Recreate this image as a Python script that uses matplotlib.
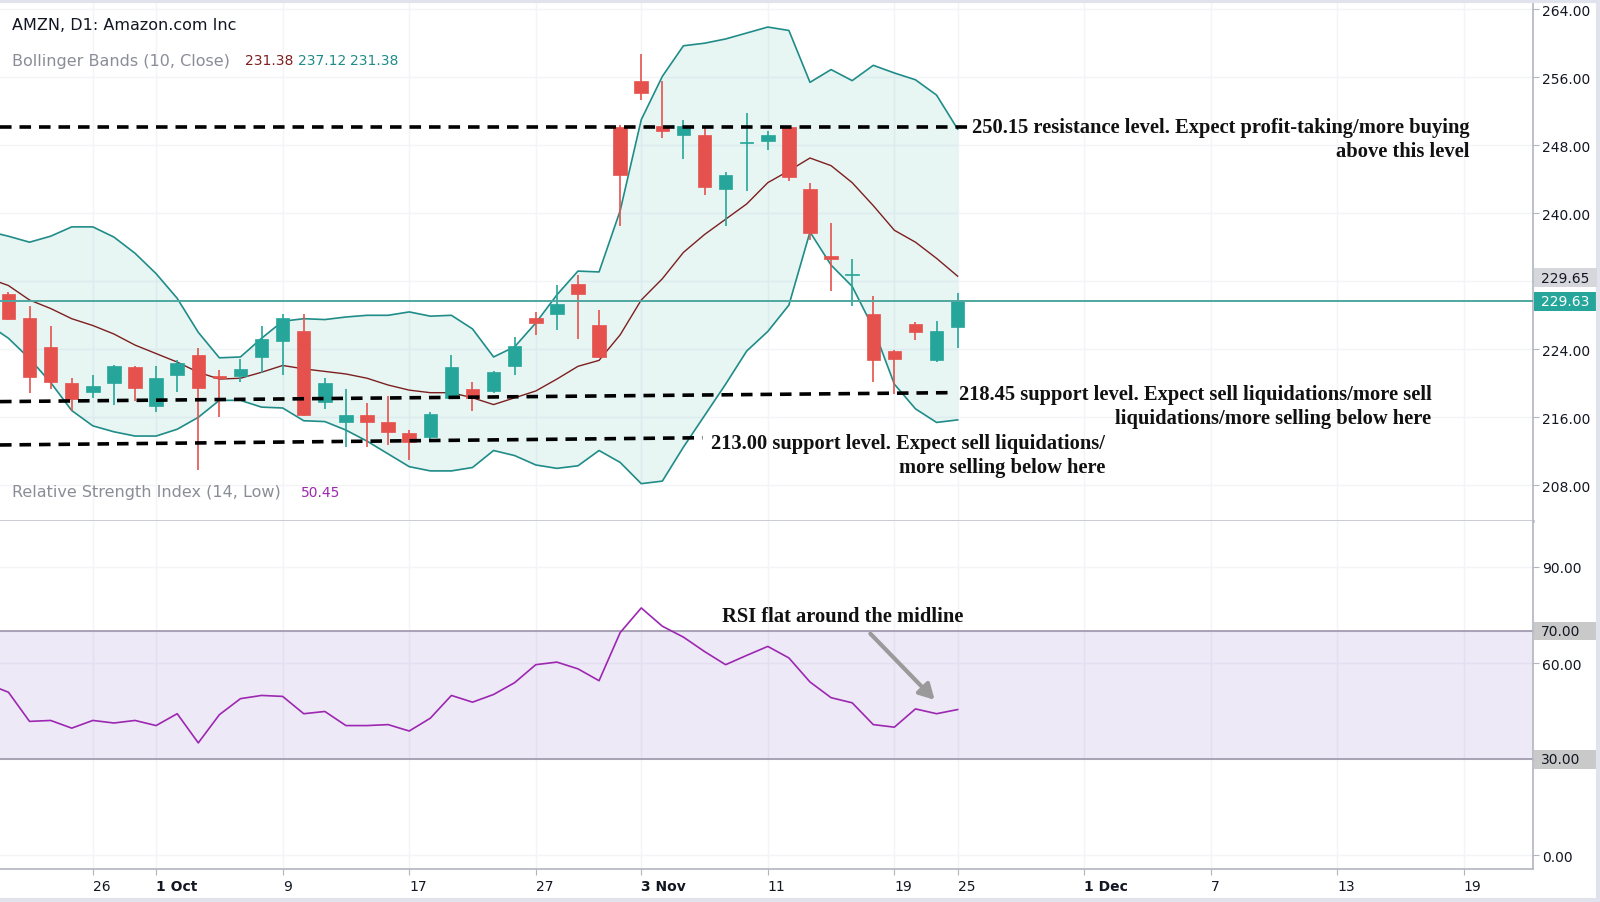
import numpy as np
import matplotlib
matplotlib.use("Agg")
import matplotlib.pyplot as plt
from matplotlib.transforms import blended_transform_factory
from matplotlib.patches import Rectangle
from matplotlib.lines import Line2D

# ---------------- data ----------------
opens = [230.5, 227.7, 224.3, 220.0, 219.0, 220.0, 221.9, 217.3, 221.0, 223.3,
         220.8, 220.9, 223.1, 225.0, 226.2, 217.8, 215.4, 216.3, 215.4, 214.1,
         213.7, 218.3, 219.3, 219.1, 222.0, 227.7, 228.2, 231.7, 226.9, 250.2,
         255.6, 250.3, 249.2, 249.2, 242.9, 248.3, 248.5, 250.1, 242.8, 235.0,
         232.7, 228.1, 223.8, 227.0, 222.7, 226.6]
highs = [230.7, 229.1, 226.8, 220.6, 221.0, 222.2, 222.0, 222.0, 222.7, 224.1,
         221.6, 222.9, 226.8, 228.2, 228.2, 220.6, 219.3, 217.7, 218.5, 214.5,
         216.6, 223.3, 220.1, 221.5, 225.4, 228.4, 231.6, 232.7, 228.6, 250.4,
         258.7, 255.5, 251.0, 250.2, 244.9, 251.8, 249.7, 250.2, 243.6, 238.8,
         234.6, 230.3, 223.9, 227.2, 227.3, 230.6]
lows = [227.4, 218.9, 219.3, 216.7, 218.3, 217.4, 217.9, 216.6, 219.0, 209.8,
        216.0, 220.2, 221.2, 221.0, 216.2, 217.0, 212.5, 212.5, 212.7, 211.0,
        213.3, 218.2, 216.8, 218.9, 221.0, 225.7, 226.3, 225.2, 223.0, 238.5,
        253.3, 248.8, 246.4, 242.2, 238.5, 242.6, 247.4, 243.8, 236.8, 230.8,
        229.1, 220.1, 218.7, 225.1, 222.5, 224.1]
closes = [227.6, 220.8, 220.2, 218.1, 219.7, 222.0, 219.5, 220.6, 222.4, 219.5,
          220.7, 221.7, 225.2, 227.7, 216.3, 220.0, 216.3, 215.5, 214.3, 213.1,
          216.4, 221.9, 218.3, 221.3, 224.4, 227.1, 229.3, 230.5, 223.1, 244.5,
          254.2, 249.7, 250.3, 243.1, 244.5, 248.4, 249.2, 244.3, 237.7, 234.6,
          232.9, 222.8, 222.9, 226.0, 226.2, 229.63]

# indicator series start one session before the first visible candle
bb_upper = [237.9, 237.3, 236.6, 237.3, 238.4, 238.4, 237.2, 235.3, 232.9, 230.0,
            226.0, 223.0, 223.1, 225.3, 227.3, 227.6, 227.5, 227.8, 228.0, 228.0,
            228.4, 227.9, 228.0, 226.4, 223.1, 224.3, 227.1, 230.4, 233.2, 233.1,
            240.3, 251.0, 256.1, 259.7, 260.0, 260.5, 261.2, 261.9, 261.5, 255.4,
            256.9, 255.6, 257.4, 256.5, 255.7, 253.9, 249.9]
bb_basis = [232.4, 231.5, 229.8, 228.8, 227.6, 226.8, 225.8, 224.5, 223.5, 222.5,
            221.3, 220.5, 220.6, 221.3, 222.1, 221.7, 221.4, 221.1, 220.6, 219.8,
            219.2, 218.9, 218.9, 218.3, 217.5, 218.3, 219.1, 220.5, 222.0, 222.7,
            225.7, 229.8, 232.3, 235.4, 237.5, 239.3, 241.1, 243.6, 245.0, 246.5,
            245.6, 243.6, 240.9, 238.0, 236.6, 234.7, 232.6]
bb_lower = [227.0, 225.3, 222.9, 220.1, 216.8, 215.0, 214.3, 213.8, 213.8, 214.6,
            216.0, 218.0, 218.0, 217.2, 217.1, 215.6, 215.5, 214.5, 213.2, 211.7,
            210.2, 209.7, 209.7, 210.1, 212.1, 211.5, 210.4, 210.0, 210.3, 212.1,
            210.7, 208.2, 208.5, 212.5, 216.2, 219.9, 223.8, 226.1, 229.2, 237.8,
            233.9, 231.4, 226.5, 219.9, 217.0, 215.4, 215.7]
rsi = [53.5, 50.9, 41.8, 42.1, 39.7, 42.1, 41.3, 42.1, 40.5, 44.2,
       35.1, 43.9, 48.9, 49.9, 49.6, 44.2, 44.9, 40.5, 40.5, 40.8,
       38.8, 42.8, 49.9, 47.8, 50.2, 53.9, 59.5, 60.3, 58.2, 54.5,
       69.5, 77.2, 71.5, 68.1, 63.6, 59.5, 62.4, 65.2, 61.6, 54.1,
       49.2, 47.6, 40.8, 40.0, 45.7, 44.2, 45.5]

x_tick_pos = [4, 7, 13, 19, 25, 30, 36, 42, 45, 51, 57, 63, 69]
x_tick_labels = ["26", "1 Oct", "9", "17", "27", "3 Nov", "11", "19", "25",
                 "1 Dec", "7", "13", "19"]
bold_labels = {"1 Oct", "3 Nov", "1 Dec"}
price_ticks = [208, 216, 224, 232, 240, 248, 256, 264]
rsi_ticks = [0, 30, 60, 70, 90]

resistance = 250.15
support_1 = 218.45
support_2 = 213.00
legend_vals = ["231.38", "237.12", "231.38"]
rsi_legend_val = "50.45"
gray_tag = "229.65"

# ---------------- styling ----------------
UP = "#26a69a"
DN = "#e5524e"
BAND = "#1f8c88"
BASIS = "#7d1f1f"
GRID = "#f3f4f8"
AXC = "#b2b5be"
TXT = "#131722"
ANN_FONT = dict(family="Liberation Serif", weight="bold", size=14.8, color="#111111")

W, H = 1568.0, 885.0   # layout frame of the reference
def fx(px):
    return px / W
def fy(py):
    return 1.0 - py / H

fig = plt.figure(figsize=(16, 9.03), dpi=100)
fig.patch.set_facecolor("white")
ax = fig.add_axes([0, fy(512), fx(1502), 512 / H])
ax2 = fig.add_axes([0, fy(853), fx(1502), 341 / H], sharex=ax)

n = len(closes)
x = np.arange(n)
bx = np.arange(-1, n)
o = np.array(opens); c = np.array(closes); hi = np.array(highs); lo = np.array(lows)
up = c >= o
cols = np.where(up, UP, DN)

# ---------------- price pane ----------------
ax.set_xlim(-0.40, 72.26)
ax.set_ylim(203.76, 265.2)
ax.fill_between(bx, bb_lower, bb_upper, color=UP, alpha=0.11, lw=0, zorder=1)
ax.plot(bx, bb_upper, color=BAND, lw=1.2, zorder=2)
ax.plot(bx, bb_lower, color=BAND, lw=1.2, zorder=2)
ax.plot(bx, bb_basis, color=BASIS, lw=1.0, zorder=2)

ax.vlines(x, lo, hi, colors=cols, lw=1.2, zorder=3)
mid = (o + c) / 2
bh = np.maximum(np.abs(c - o), 0.14)
ax.bar(x, bh, width=0.64, bottom=mid - bh / 2, color=cols, edgecolor=cols,
       lw=0.5, zorder=4)

ax.axhline(closes[-1], color="#4ea7a0", lw=1.4, zorder=5)

# dashed key levels (hand drawn, slightly slanted in the reference)
dash = dict(color="black", lw=2.6, dashes=(3.2, 2.2), zorder=6, solid_capstyle="butt")
ax.plot([-0.4, 45.6], [resistance, resistance], **dash)
ax.plot([-0.4, 44.6], [support_1 - 0.6, support_1 + 0.45], **dash)
ax.plot([-0.4, 32.9], [support_2 - 0.25, support_2 + 0.6], **dash)

ax.text(69.27, 250.2, "250.15 resistance level. Expect profit-taking/more buying",
        ha="right", va="center", zorder=7, **ANN_FONT)
ax.text(69.27, 247.3, "above this level", ha="right", va="center", zorder=7, **ANN_FONT)
ax.text(67.47, 218.76, "218.45 support level. Expect sell liquidations/more sell",
        ha="right", va="center", zorder=7, **ANN_FONT)
ax.text(67.47, 215.88, "liquidations/more selling below here", ha="right", va="center",
        zorder=7, **ANN_FONT)
ax.text(52.0, 213.0, "213.00 support level. Expect sell liquidations/",
        ha="right", va="center", zorder=7, **ANN_FONT)
ax.text(52.0, 210.12, "more selling below here", ha="right", va="center",
        zorder=7, **ANN_FONT)

ax.set_yticks(price_ticks)
ax.set_yticklabels(["" if v == 232 else f"{v:.2f}" for v in price_ticks])
ax.yaxis.tick_right()
ax.tick_params(axis="y", length=4, color=AXC, labelsize=10, labelcolor=TXT, pad=3)
ax.tick_params(axis="x", length=0, labelbottom=False)
ax.grid(True, color=GRID, lw=1)
ax.set_axisbelow(True)
for s in ["top", "left"]:
    ax.spines[s].set_visible(False)
ax.spines["right"].set_color(AXC); ax.spines["right"].set_linewidth(1.2)
ax.spines["bottom"].set_color("#c5c8cf"); ax.spines["bottom"].set_linewidth(2)

# ---------------- RSI pane ----------------
ax2.set_ylim(-4.36, 104.2)
ax2.axhspan(30, 70, color="#7e57c2", alpha=0.13, lw=0, zorder=1)
ax2.axhline(70, color="#a39cb0", lw=1.3, zorder=2)
ax2.axhline(30, color="#a39cb0", lw=1.3, zorder=2)
ax2.plot(bx, rsi, color="#9c27b0", lw=1.2, zorder=3)
ax2.set_yticks(rsi_ticks)
ax2.set_yticklabels(["0.00", "", "60.00", "", "90.00"])
ax2.yaxis.tick_right()
ax2.tick_params(axis="y", length=4, color=AXC, labelsize=10, labelcolor=TXT, pad=3)
ax2.set_xticks(x_tick_pos)
ax2.set_xticklabels(x_tick_labels)
ax2.tick_params(axis="x", length=4, color=AXC, labelsize=10, labelcolor=TXT, pad=3)
for lab in ax2.get_xticklabels():
    lab.set_horizontalalignment("left")
    if lab.get_text() in bold_labels:
        lab.set_fontweight("bold")
ax2.grid(True, color=GRID, lw=1)
ax2.set_axisbelow(True)
for s in ["top", "left"]:
    ax2.spines[s].set_visible(False)
ax2.spines["right"].set_color(AXC); ax2.spines["right"].set_linewidth(1.2)
ax2.spines["bottom"].set_color(AXC); ax2.spines["bottom"].set_linewidth(1.2)

ax2.annotate("", xy=(44.0, 47.9), xytext=(40.77, 69.8),
             arrowprops=dict(arrowstyle="-|>,head_length=0.9,head_width=0.5",
                             color="#9a9a9a", lw=3), zorder=6)
ax2.text(39.56, 74.6, "RSI flat around the midline", ha="center", va="center",
         zorder=7, **ANN_FONT)

# ---------------- axis value tags ----------------
def tag(axis, yval, text, fc, tc, box_h_px=18.5):
    fig_h_px = fig.get_figheight() * fig.dpi
    ax_h_px = axis.get_position().height * fig_h_px
    y0, y1 = axis.get_ylim()
    dh = box_h_px * 1.02 * (y1 - y0) / ax_h_px
    tr = blended_transform_factory(axis.transAxes, axis.transData)
    axis.add_patch(Rectangle((1.0007, yval - dh / 2), 62 / 1502, dh, transform=tr,
                             fc=fc, ec="none", clip_on=False, zorder=10))
    axis.text(1.0053, yval, text, transform=tr, ha="left", va="center",
              fontsize=10, color=tc, clip_on=False, zorder=11)

tag(ax, closes[-1], f"{closes[-1]:.2f}", UP, "white")
tag(ax2, 70, "70.00", "#c9c9c9", TXT)
tag(ax2, 30, "30.00", "#c9c9c9", TXT)
# grey tag pushed upward by the label layout
fig.add_artist(Rectangle((fx(1503), fy(282)), fx(62), 18 / H, transform=fig.transFigure,
                         fc="#d6d7dc", ec="none", zorder=10))
fig.text(fx(1510), fy(273), gray_tag, fontsize=10, color=TXT, va="center", ha="left",
         zorder=11)

# ---------------- legends ----------------
fig.text(fx(12), fy(25), "AMZN, D1: Amazon.com Inc", fontsize=11.5, color=TXT,
         va="center", ha="left")
fig.text(fx(12), fy(60), "Bollinger Bands (10, Close)", fontsize=11.5, color="#8a8d96",
         va="center", ha="left")
for xp, val, colr in zip([240, 292, 343], legend_vals, [BASIS, BAND, BAND]):
    fig.text(fx(xp), fy(60), val, fontsize=10, color=colr, va="center", ha="left")
fig.text(fx(12), fy(483), "Relative Strength Index (14, Low)", fontsize=11.5,
         color="#8a8d96", va="center", ha="left")
fig.text(fx(295), fy(483), rsi_legend_val, fontsize=10, color="#9c27b0",
         va="center", ha="left")

# light frame of the screenshot
for xs, ys in [([0, 1], [0.002, 0.002]), ([0.999, 0.999], [0, 1]), ([0, 1], [0.998, 0.998])]:
    fig.add_artist(Line2D(xs, ys, transform=fig.transFigure, color="#e0e3eb", lw=3))

fig.savefig("out.png", dpi=100)
